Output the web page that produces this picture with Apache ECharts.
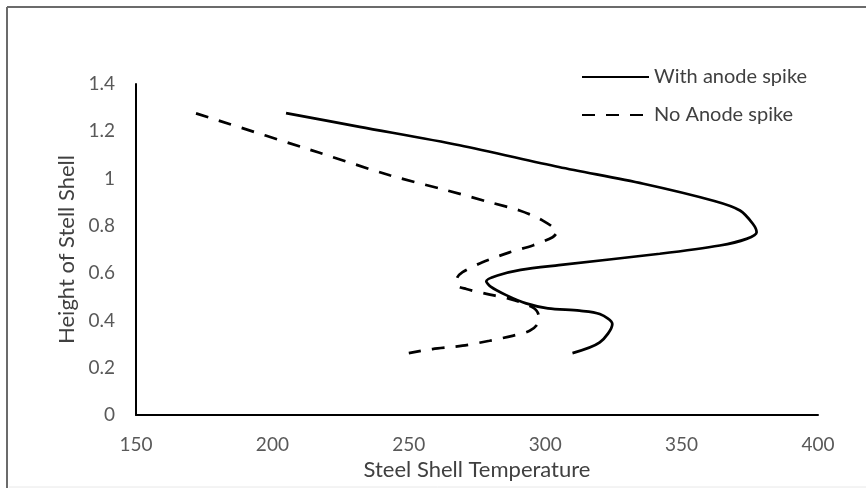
<!DOCTYPE html>
<html>
<head>
<meta charset="utf-8">
<script src="https://cdn.jsdelivr.net/npm/echarts@6/dist/echarts.min.js"></script>
<style>html,body{margin:0;padding:0;background:#fff}#c{width:866px;height:488px}</style>
</head>
<body>
<div id="c"></div>
<script>
const seriesNames = ['With anode spike', 'No Anode spike'];
// [temperature, height]
const withSpike = [[205,1.277],[232,1.219],[268.6,1.141],[305,1.049],[336,0.978],[362,0.905],[371.4,0.865],[376.1,0.809],[377.5,0.773],[373.8,0.745],[364,0.717],[342,0.682],[305,0.634],[291,0.614],[282.5,0.59],[278.4,0.566],[280,0.543],[285.7,0.507],[293,0.472],[301,0.451],[312.6,0.441],[320,0.427],[324.6,0.385],[320,0.307],[310,0.262]];
const noSpike = [[172,1.276],[217,1.11],[243,1.014],[264,0.95],[279.6,0.90],[290.6,0.865],[299,0.823],[304.2,0.773],[302.7,0.752],[295.4,0.717],[286.9,0.688],[277,0.646],[269.7,0.604],[267.6,0.575],[267.8,0.547],[271.1,0.533],[278.5,0.512],[286.9,0.491],[295.4,0.455],[297.6,0.42],[297.2,0.385],[294.3,0.356],[288,0.335],[279.6,0.314],[269.7,0.293],[258.7,0.279],[250,0.262]];
const xTicks = {min:150, max:400, interval:50};
const yTicks = {min:0, max:1.4, interval:0.2};

const FONT = 'Lato';
const chart = echarts.init(document.getElementById('c'));
chart.setOption({
  animation:false,
  backgroundColor:'#fff',
  graphic:[
    {type:'line', shape:{x1:7,y1:7,x2:866,y2:7}, style:{stroke:'#6b6b6b',lineWidth:2}},
    {type:'line', shape:{x1:7,y1:7,x2:7,y2:488}, style:{stroke:'#6b6b6b',lineWidth:2}},
    {type:'line', shape:{x1:9,y1:487,x2:866,y2:487}, style:{stroke:'#e8e8e8',lineWidth:1}}
  ],
  grid:{left:136, right:48, top:84, bottom:73},
  legend:{
    orient:'vertical', left:576, top:62, itemWidth:67, itemHeight:14, itemGap:18,
    itemStyle:{color:'rgba(0,0,0,0)', borderWidth:0, opacity:0},
    textStyle:{fontFamily:FONT, fontSize:20, lineHeight:20, color:'#404040'},
    data:seriesNames
  },
  xAxis:{
    type:'value', min:xTicks.min, max:xTicks.max, interval:xTicks.interval,
    name:'Steel Shell Temperature', nameLocation:'middle', nameGap:38,
    nameTextStyle:{fontFamily:FONT, fontSize:22, color:'#404040'},
    axisLine:{show:true, onZero:false, lineStyle:{color:'#000', width:2}},
    axisTick:{show:false}, splitLine:{show:false},
    axisLabel:{fontFamily:FONT, fontSize:19, color:'#595959', margin:20}
  },
  yAxis:{
    type:'value', min:yTicks.min, max:yTicks.max, interval:yTicks.interval,
    name:'Height of Stell Shell', nameLocation:'middle', nameGap:56,
    nameTextStyle:{fontFamily:FONT, fontSize:22, color:'#404040'},
    axisLine:{show:true, onZero:false, lineStyle:{color:'#000', width:2}},
    axisTick:{show:false}, splitLine:{show:false},
    axisLabel:{fontFamily:FONT, fontSize:19, color:'#595959', margin:21,
      formatter:v=>String(Math.round(v*10)/10)}
  },
  series:[
    {name:seriesNames[0], type:'line', data:withSpike, smooth:0.3, symbol:'none',
      lineStyle:{color:'#000', width:2.75}, itemStyle:{color:'#000'}},
    {name:seriesNames[1], type:'line', data:noSpike, smooth:0.3, symbol:'none',
      lineStyle:{color:'#000', width:2.75, type:[13,11]}, itemStyle:{color:'#000'}}
  ]
});
</script>
</body>
</html>
